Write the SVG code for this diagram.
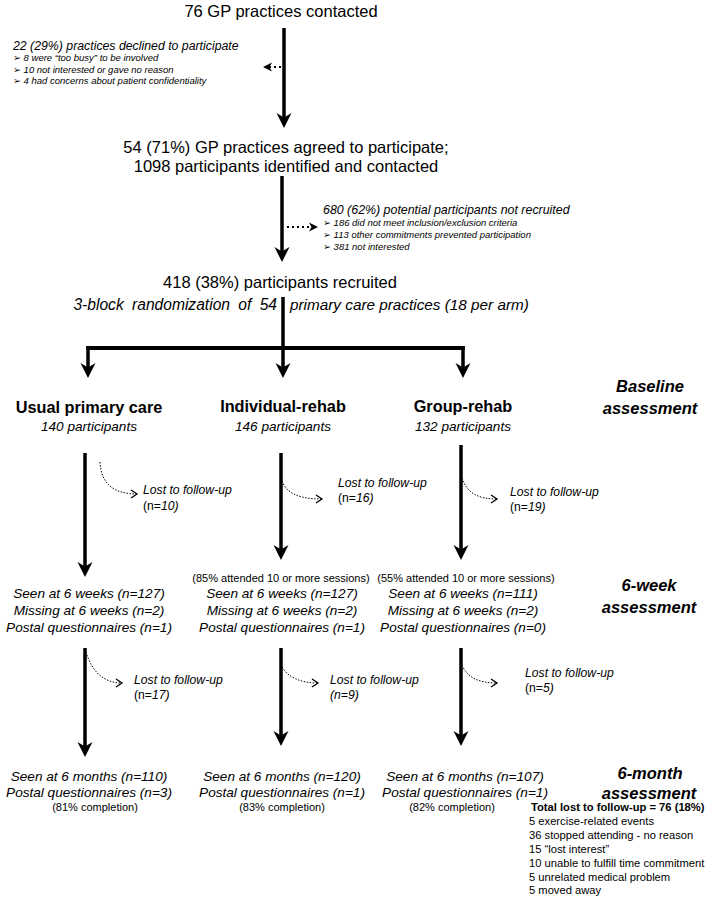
<svg xmlns="http://www.w3.org/2000/svg" width="718" height="897" viewBox="0 0 718 897">
<style>
text{font-family:"Liberation Sans",Arial,"DejaVu Sans",sans-serif;fill:#000}
.big{font-size:16.5px}
.it{font-style:italic}
.hd{font-size:12.3px;font-style:italic}
.bl{font-size:9.5px;font-style:italic}
.arm{font-size:16.3px;font-weight:bold}
.sub{font-size:13.6px;font-style:italic}
.lost{font-size:12.2px;font-style:italic}
.sm{font-size:11px}
.phase{font-size:16.5px;font-weight:bold;font-style:italic}
.tot{font-size:11.2px}
.c{text-anchor:middle}
.main{stroke:#000;stroke-width:3.5;fill:none}
.dot{stroke:#000;stroke-width:2.2;stroke-dasharray:2 3;fill:none}
.lf{stroke:#000;stroke-width:1;stroke-dasharray:1.5 1.5;fill:none}
</style>
<defs>
<marker id="head" markerUnits="userSpaceOnUse" viewBox="0 -8 16 16" markerWidth="16" markerHeight="16" refX="9" refY="0" orient="auto"><path d="M15,0 L0,-7.5 L4.5,0 L0,7.5 Z" fill="#000"/></marker>
<marker id="dhead" markerUnits="userSpaceOnUse" viewBox="0 -5 10 10" markerWidth="10" markerHeight="10" refX="3" refY="0" orient="auto"><path d="M9,0 L0,-4.5 L2.5,0 L0,4.5 Z" fill="#000"/></marker>
<marker id="vhead" markerUnits="userSpaceOnUse" viewBox="-8 -5 10 10" markerWidth="10" markerHeight="10" refX="0" refY="0" orient="auto"><path d="M-6,-4 L0,0 L-6,4" fill="none" stroke="#000" stroke-width="1.3"/></marker>
</defs>
<rect width="718" height="897" fill="#fff"/>

<g id="connectors">
<line class="main" x1="284" y1="28" x2="284" y2="122" marker-end="url(#head)"/>
<line class="dot" x1="281" y1="67" x2="269" y2="67" marker-end="url(#dhead)"/>
<line class="main" x1="282" y1="176" x2="282" y2="256" marker-end="url(#head)"/>
<line class="dot" x1="287" y1="227" x2="312" y2="227" marker-end="url(#dhead)"/>
<line class="main" x1="283" y1="297" x2="283" y2="372" marker-end="url(#head)"/>
<line class="main" x1="86.25" y1="348" x2="464.75" y2="348" style="stroke-width:4"/>
<line class="main" x1="88" y1="346" x2="88" y2="372" marker-end="url(#head)"/>
<line class="main" x1="463" y1="346" x2="463" y2="372" marker-end="url(#head)"/>

<line class="main" x1="85" y1="453" x2="85" y2="571" marker-end="url(#head)"/>
<line class="main" x1="281" y1="453" x2="281" y2="554" marker-end="url(#head)"/>
<line class="main" x1="461" y1="445" x2="461" y2="554" marker-end="url(#head)"/>
<path class="lf" d="M100,462 C101,484 114,494 137,494" marker-end="url(#vhead)"/>
<path class="lf" d="M282,481 C287,494 300,499 322,499" marker-end="url(#vhead)"/>
<path class="lf" d="M462,478 C467,493 478,499 497,499" marker-end="url(#vhead)"/>

<line class="main" x1="85" y1="648" x2="85" y2="751" marker-end="url(#head)"/>
<line class="main" x1="281" y1="648" x2="281" y2="740" marker-end="url(#head)"/>
<line class="main" x1="461" y1="648" x2="461" y2="740" marker-end="url(#head)"/>
<path class="lf" d="M86,652 C92,672 104,683 122,683" marker-end="url(#vhead)"/>
<path class="lf" d="M282,667 C288,677 300,683 318,683" marker-end="url(#vhead)"/>
<path class="lf" d="M462,665 C467,677 478,683 497,683" marker-end="url(#vhead)"/>
</g>

<g id="contacted"><text class="big c" x="281" y="17">76 GP practices contacted</text></g>

<g id="declined">
<text class="hd" x="13" y="50">22 (29%) practices declined to participate</text>
<text class="bl" x="13" y="61">➢ 8 were “too busy” to be involved</text>
<text class="bl" x="13" y="72.5">➢ 10 not interested or gave no reason</text>
<text class="bl" x="13" y="84">➢ 4 had concerns about patient confidentiality</text>
</g>

<g id="agreed">
<text class="big c" x="286" y="153">54 (71%) GP practices agreed to participate;</text>
<text class="big c" x="286" y="172">1098 participants identified and contacted</text>
</g>

<g id="not-recruited">
<text class="hd" x="323" y="214" style="font-size:12.4px">680 (62%) potential participants not recruited</text>
<text class="bl" x="323" y="226">➢ 186 did not meet inclusion/exclusion criteria</text>
<text class="bl" x="323" y="238">➢ 113 other commitments prevented participation</text>
<text class="bl" x="323" y="249.5">➢ 381 not interested</text>
</g>

<g id="recruited">
<text class="big c" x="280" y="288">418 (38%) participants recruited</text>
<text class="it" x="277" y="310" style="font-size:15.6px;text-anchor:end;word-spacing:4px">3-block randomization of 54</text>
<text class="it" x="290" y="310" style="font-size:15.3px">primary care practices (18 per arm)</text>
</g>

<g id="usual">
<text class="arm c" x="89" y="413">Usual primary care</text>
<text class="sub c" x="89" y="431">140 participants</text>
</g>
<g id="individual">
<text class="arm c" x="283" y="412">Individual-rehab</text>
<text class="sub c" x="283" y="431">146 participants</text>
</g>
<g id="group">
<text class="arm c" x="463" y="412">Group-rehab</text>
<text class="sub c" x="463" y="431">132 participants</text>
</g>

<g id="baseline-label">
<text class="phase c" x="650" y="392">Baseline</text>
<text class="phase c" x="650" y="414">assessment</text>
</g>

<g id="lost-usual-1"><text class="lost" x="143" y="494">Lost to follow-up</text><text class="lost" x="143" y="510"><tspan font-style="normal">(n=</tspan>10)</text></g>
<g id="lost-ind-1"><text class="lost" x="338" y="487">Lost to follow-up</text><text class="lost" x="338" y="502"><tspan font-style="normal">(n=</tspan>16)</text></g>
<g id="lost-grp-1"><text class="lost" x="510" y="496">Lost to follow-up</text><text class="lost" x="510" y="511"><tspan font-style="normal">(n=</tspan>19)</text></g>

<g id="usual-6wk">
<text class="sub c" x="89" y="598">Seen at 6 weeks (n=127)</text>
<text class="sub c" x="89" y="615">Missing at 6 weeks (n=2)</text>
<text class="sub c" x="89" y="632">Postal questionnaires (n=1)</text>
</g>
<g id="ind-6wk">
<text class="sm c" x="281" y="582">(85% attended 10 or more sessions)</text>
<text class="sub c" x="282" y="598">Seen at 6 weeks (n=127)</text>
<text class="sub c" x="282" y="615">Missing at 6 weeks (n=2)</text>
<text class="sub c" x="282" y="632">Postal questionnaires (n=1)</text>
</g>
<g id="grp-6wk">
<text class="sm c" x="466" y="582">(55% attended 10 or more sessions)</text>
<text class="sub c" x="463" y="598">Seen at 6 weeks (n=111)</text>
<text class="sub c" x="463" y="615">Missing at 6 weeks (n=2)</text>
<text class="sub c" x="463" y="632">Postal questionnaires (n=0)</text>
</g>
<g id="week-label">
<text class="phase c" x="649" y="591">6-week</text>
<text class="phase c" x="649" y="613">assessment</text>
</g>

<g id="lost-usual-2"><text class="lost" x="134" y="684">Lost to follow-up</text><text class="lost" x="134" y="699"><tspan font-style="normal">(n=</tspan>17)</text></g>
<g id="lost-ind-2"><text class="lost" x="330" y="684">Lost to follow-up</text><text class="lost" x="330" y="699" font-style="normal">(n=9)</text></g>
<g id="lost-grp-2"><text class="lost" x="525" y="677">Lost to follow-up</text><text class="lost" x="525" y="692"><tspan font-style="normal">(n=</tspan>5)</text></g>

<g id="usual-6mo">
<text class="sub c" x="89" y="781">Seen at 6 months (n=110)</text>
<text class="sub c" x="89" y="797">Postal questionnaires (n=3)</text>
<text class="sm c" x="95" y="811">(81% completion)</text>
</g>
<g id="ind-6mo">
<text class="sub c" x="282" y="781">Seen at 6 months (n=120)</text>
<text class="sub c" x="282" y="797">Postal questionnaires (n=1)</text>
<text class="sm c" x="282" y="811">(83% completion)</text>
</g>
<g id="grp-6mo">
<text class="sub c" x="465" y="781">Seen at 6 months (n=107)</text>
<text class="sub c" x="465" y="797">Postal questionnaires (n=1)</text>
<text class="sm c" x="452" y="811">(82% completion)</text>
</g>

<g id="month-label">
<text class="phase c" x="650" y="779">6-month</text>
<text class="phase c" x="649" y="799">assessment</text>
</g>

<g id="total-lost">
<text class="tot" x="531" y="811" font-weight="bold">Total lost to follow-up = 76 (18%)</text>
<text class="tot" x="529" y="824.5">5 exercise-related events</text>
<text class="tot" x="529" y="838.5">36 stopped attending - no reason</text>
<text class="tot" x="529" y="852.5">15 “lost interest”</text>
<text class="tot" x="529" y="866.5">10 unable to fulfill time commitment</text>
<text class="tot" x="529" y="880.5">5 unrelated medical problem</text>
<text class="tot" x="529" y="894">5 moved away</text>
</g>
</svg>
